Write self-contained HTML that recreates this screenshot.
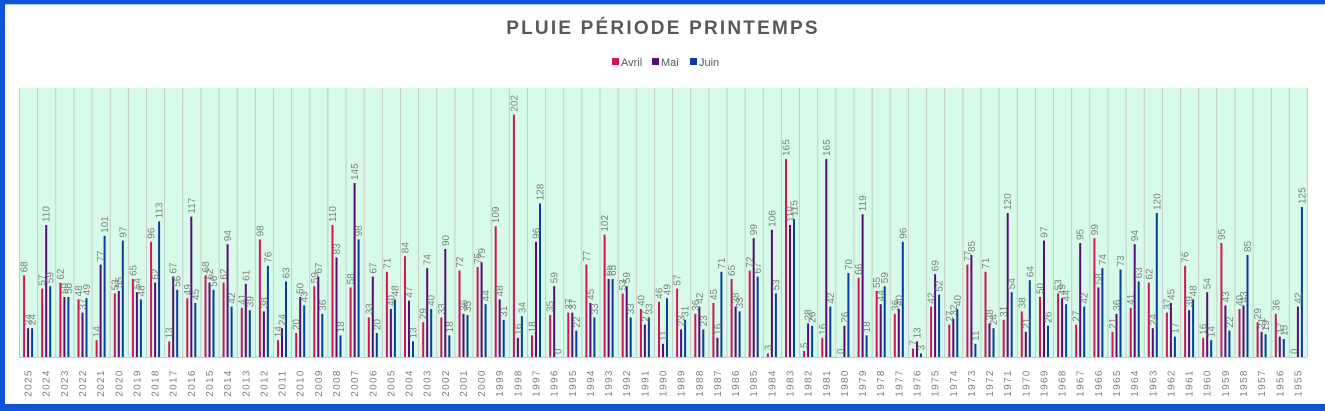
<!DOCTYPE html>
<html><head><meta charset="utf-8"><style>
html,body{margin:0;padding:0;background:#fff}
svg{display:block}
.a{fill:#d4145a}.m{fill:#5c0a78}.j{fill:#0d3d9b}
text{font-family:"Liberation Sans",sans-serif}
.l text{font-size:10px;fill:#7f7f7f}
.y{font-size:10.5px;fill:#595959;letter-spacing:1.3px;text-anchor:middle}
</style></head><body>
<svg width="1325" height="411" xmlns="http://www.w3.org/2000/svg">
<defs><pattern id="g" x="19" y="0" width="18.141" height="10" patternUnits="userSpaceOnUse"><rect x="0" y="0" width="1" height="10" fill="#c9c9c9"/></pattern></defs>
<rect x="0" y="0" width="1325" height="411" fill="#fff"/>
<rect x="19" y="88" width="1288" height="269" fill="#d6fce9"/>
<rect x="19" y="88" width="1289" height="269" fill="url(#g)"/>
<line x1="19" y1="357.5" x2="1307" y2="357.5" stroke="#c9c9c9"/>
<rect x="0" y="0" width="1325" height="4" fill="#1155d6"/>
<rect x="0" y="4" width="1325" height="1" fill="#a8c8f0"/>
<rect x="0" y="0" width="5" height="411" fill="#1155d6"/>
<rect x="0" y="404" width="1325" height="7" fill="#1155d6"/>
<text x="663" y="34" text-anchor="middle" style="font-size:19px;font-weight:bold;fill:#595959;letter-spacing:2.2px">PLUIE PÉRIODE PRINTEMPS</text>
<rect x="612" y="58" width="7" height="7" fill="#d4145a"/><text x="621" y="66" style="font-size:11px;fill:#595959">Avril</text>
<rect x="652" y="58" width="7" height="7" fill="#5c0a78"/><text x="661" y="66" style="font-size:11px;fill:#595959">Mai</text>
<rect x="690" y="58" width="7" height="7" fill="#0d3d9b"/><text x="699" y="66" style="font-size:11px;fill:#595959">Juin</text>
<g class="l">
<g transform="translate(28.1,357) scale(1,1.2)"><rect class="a" x="-5" width="2" y="-68" height="68"/><rect class="m" x="-1" width="2" y="-24" height="24"/><rect class="j" x="3" width="2" y="-24" height="24"/><text transform="translate(-.5,-68)scale(1,.8333)rotate(-90)" x="3">68</text><text transform="translate(3.5,-24)scale(1,.8333)rotate(-90)" x="3">24</text><text transform="translate(7.5,-24)scale(1,.8333)rotate(-90)" x="3">24</text><text class="y" transform="scale(1,.8333)rotate(-90)" x="-26" y="3.5">2025</text></g>
<g transform="translate(46.2,357) scale(1,1.2)"><rect class="a" x="-5" width="2" y="-57" height="57"/><rect class="m" x="-1" width="2" y="-110" height="110"/><rect class="j" x="3" width="2" y="-59" height="59"/><text transform="translate(-.5,-57)scale(1,.8333)rotate(-90)" x="3">57</text><text transform="translate(3.5,-110)scale(1,.8333)rotate(-90)" x="3">110</text><text transform="translate(7.5,-59)scale(1,.8333)rotate(-90)" x="3">59</text><text class="y" transform="scale(1,.8333)rotate(-90)" x="-26" y="3.5">2024</text></g>
<g transform="translate(64.4,357) scale(1,1.2)"><rect class="a" x="-5" width="2" y="-62" height="62"/><rect class="m" x="-1" width="2" y="-50" height="50"/><rect class="j" x="3" width="2" y="-50" height="50"/><text transform="translate(-.5,-62)scale(1,.8333)rotate(-90)" x="3">62</text><text transform="translate(3.5,-50)scale(1,.8333)rotate(-90)" x="3">50</text><text transform="translate(7.5,-50)scale(1,.8333)rotate(-90)" x="3">50</text><text class="y" transform="scale(1,.8333)rotate(-90)" x="-26" y="3.5">2023</text></g>
<g transform="translate(82.5,357) scale(1,1.2)"><rect class="a" x="-5" width="2" y="-48" height="48"/><rect class="m" x="-1" width="2" y="-37" height="37"/><rect class="j" x="3" width="2" y="-49" height="49"/><text transform="translate(-.5,-48)scale(1,.8333)rotate(-90)" x="3">48</text><text transform="translate(3.5,-37)scale(1,.8333)rotate(-90)" x="3">37</text><text transform="translate(7.5,-49)scale(1,.8333)rotate(-90)" x="3">49</text><text class="y" transform="scale(1,.8333)rotate(-90)" x="-26" y="3.5">2022</text></g>
<g transform="translate(100.6,357) scale(1,1.2)"><rect class="a" x="-5" width="2" y="-14" height="14"/><rect class="m" x="-1" width="2" y="-77" height="77"/><rect class="j" x="3" width="2" y="-101" height="101"/><text transform="translate(-.5,-14)scale(1,.8333)rotate(-90)" x="3">14</text><text transform="translate(3.5,-77)scale(1,.8333)rotate(-90)" x="3">77</text><text transform="translate(7.5,-101)scale(1,.8333)rotate(-90)" x="3">101</text><text class="y" transform="scale(1,.8333)rotate(-90)" x="-26" y="3.5">2021</text></g>
<g transform="translate(118.8,357) scale(1,1.2)"><rect class="a" x="-5" width="2" y="-53" height="53"/><rect class="m" x="-1" width="2" y="-55" height="55"/><rect class="j" x="3" width="2" y="-97" height="97"/><text transform="translate(-.5,-53)scale(1,.8333)rotate(-90)" x="3">53</text><text transform="translate(3.5,-55)scale(1,.8333)rotate(-90)" x="3">55</text><text transform="translate(7.5,-97)scale(1,.8333)rotate(-90)" x="3">97</text><text class="y" transform="scale(1,.8333)rotate(-90)" x="-26" y="3.5">2020</text></g>
<g transform="translate(136.9,357) scale(1,1.2)"><rect class="a" x="-5" width="2" y="-65" height="65"/><rect class="m" x="-1" width="2" y="-54" height="54"/><rect class="j" x="3" width="2" y="-48" height="48"/><text transform="translate(-.5,-65)scale(1,.8333)rotate(-90)" x="3">65</text><text transform="translate(3.5,-54)scale(1,.8333)rotate(-90)" x="3">54</text><text transform="translate(7.5,-48)scale(1,.8333)rotate(-90)" x="3">48</text><text class="y" transform="scale(1,.8333)rotate(-90)" x="-26" y="3.5">2019</text></g>
<g transform="translate(155.1,357) scale(1,1.2)"><rect class="a" x="-5" width="2" y="-96" height="96"/><rect class="m" x="-1" width="2" y="-62" height="62"/><rect class="j" x="3" width="2" y="-113" height="113"/><text transform="translate(-.5,-96)scale(1,.8333)rotate(-90)" x="3">96</text><text transform="translate(3.5,-62)scale(1,.8333)rotate(-90)" x="3">62</text><text transform="translate(7.5,-113)scale(1,.8333)rotate(-90)" x="3">113</text><text class="y" transform="scale(1,.8333)rotate(-90)" x="-26" y="3.5">2018</text></g>
<g transform="translate(173.2,357) scale(1,1.2)"><rect class="a" x="-5" width="2" y="-13" height="13"/><rect class="m" x="-1" width="2" y="-67" height="67"/><rect class="j" x="3" width="2" y="-56" height="56"/><text transform="translate(-.5,-13)scale(1,.8333)rotate(-90)" x="3">13</text><text transform="translate(3.5,-67)scale(1,.8333)rotate(-90)" x="3">67</text><text transform="translate(7.5,-56)scale(1,.8333)rotate(-90)" x="3">56</text><text class="y" transform="scale(1,.8333)rotate(-90)" x="-26" y="3.5">2017</text></g>
<g transform="translate(191.3,357) scale(1,1.2)"><rect class="a" x="-5" width="2" y="-49" height="49"/><rect class="m" x="-1" width="2" y="-117" height="117"/><rect class="j" x="3" width="2" y="-45" height="45"/><text transform="translate(-.5,-49)scale(1,.8333)rotate(-90)" x="3">49</text><text transform="translate(3.5,-117)scale(1,.8333)rotate(-90)" x="3">117</text><text transform="translate(7.5,-45)scale(1,.8333)rotate(-90)" x="3">45</text><text class="y" transform="scale(1,.8333)rotate(-90)" x="-26" y="3.5">2016</text></g>
<g transform="translate(209.5,357) scale(1,1.2)"><rect class="a" x="-5" width="2" y="-68" height="68"/><rect class="m" x="-1" width="2" y="-62" height="62"/><rect class="j" x="3" width="2" y="-56" height="56"/><text transform="translate(-.5,-68)scale(1,.8333)rotate(-90)" x="3">68</text><text transform="translate(3.5,-62)scale(1,.8333)rotate(-90)" x="3">62</text><text transform="translate(7.5,-56)scale(1,.8333)rotate(-90)" x="3">56</text><text class="y" transform="scale(1,.8333)rotate(-90)" x="-26" y="3.5">2015</text></g>
<g transform="translate(227.6,357) scale(1,1.2)"><rect class="a" x="-5" width="2" y="-62" height="62"/><rect class="m" x="-1" width="2" y="-94" height="94"/><rect class="j" x="3" width="2" y="-42" height="42"/><text transform="translate(-.5,-62)scale(1,.8333)rotate(-90)" x="3">62</text><text transform="translate(3.5,-94)scale(1,.8333)rotate(-90)" x="3">94</text><text transform="translate(7.5,-42)scale(1,.8333)rotate(-90)" x="3">42</text><text class="y" transform="scale(1,.8333)rotate(-90)" x="-26" y="3.5">2014</text></g>
<g transform="translate(245.8,357) scale(1,1.2)"><rect class="a" x="-5" width="2" y="-41" height="41"/><rect class="m" x="-1" width="2" y="-61" height="61"/><rect class="j" x="3" width="2" y="-39" height="39"/><text transform="translate(-.5,-41)scale(1,.8333)rotate(-90)" x="3">41</text><text transform="translate(3.5,-61)scale(1,.8333)rotate(-90)" x="3">61</text><text transform="translate(7.5,-39)scale(1,.8333)rotate(-90)" x="3">39</text><text class="y" transform="scale(1,.8333)rotate(-90)" x="-26" y="3.5">2013</text></g>
<g transform="translate(263.9,357) scale(1,1.2)"><rect class="a" x="-5" width="2" y="-98" height="98"/><rect class="m" x="-1" width="2" y="-38" height="38"/><rect class="j" x="3" width="2" y="-76" height="76"/><text transform="translate(-.5,-98)scale(1,.8333)rotate(-90)" x="3">98</text><text transform="translate(3.5,-38)scale(1,.8333)rotate(-90)" x="3">38</text><text transform="translate(7.5,-76)scale(1,.8333)rotate(-90)" x="3">76</text><text class="y" transform="scale(1,.8333)rotate(-90)" x="-26" y="3.5">2012</text></g>
<g transform="translate(282.0,357) scale(1,1.2)"><rect class="a" x="-5" width="2" y="-14" height="14"/><rect class="m" x="-1" width="2" y="-24" height="24"/><rect class="j" x="3" width="2" y="-63" height="63"/><text transform="translate(-.5,-14)scale(1,.8333)rotate(-90)" x="3">14</text><text transform="translate(3.5,-24)scale(1,.8333)rotate(-90)" x="3">24</text><text transform="translate(7.5,-63)scale(1,.8333)rotate(-90)" x="3">63</text><text class="y" transform="scale(1,.8333)rotate(-90)" x="-26" y="3.5">2011</text></g>
<g transform="translate(300.2,357) scale(1,1.2)"><rect class="a" x="-5" width="2" y="-20" height="20"/><rect class="m" x="-1" width="2" y="-50" height="50"/><rect class="j" x="3" width="2" y="-43" height="43"/><text transform="translate(-.5,-20)scale(1,.8333)rotate(-90)" x="3">20</text><text transform="translate(3.5,-50)scale(1,.8333)rotate(-90)" x="3">50</text><text transform="translate(7.5,-43)scale(1,.8333)rotate(-90)" x="3">43</text><text class="y" transform="scale(1,.8333)rotate(-90)" x="-26" y="3.5">2010</text></g>
<g transform="translate(318.3,357) scale(1,1.2)"><rect class="a" x="-5" width="2" y="-59" height="59"/><rect class="m" x="-1" width="2" y="-67" height="67"/><rect class="j" x="3" width="2" y="-36" height="36"/><text transform="translate(-.5,-59)scale(1,.8333)rotate(-90)" x="3">59</text><text transform="translate(3.5,-67)scale(1,.8333)rotate(-90)" x="3">67</text><text transform="translate(7.5,-36)scale(1,.8333)rotate(-90)" x="3">36</text><text class="y" transform="scale(1,.8333)rotate(-90)" x="-26" y="3.5">2009</text></g>
<g transform="translate(336.5,357) scale(1,1.2)"><rect class="a" x="-5" width="2" y="-110" height="110"/><rect class="m" x="-1" width="2" y="-83" height="83"/><rect class="j" x="3" width="2" y="-18" height="18"/><text transform="translate(-.5,-110)scale(1,.8333)rotate(-90)" x="3">110</text><text transform="translate(3.5,-83)scale(1,.8333)rotate(-90)" x="3">83</text><text transform="translate(7.5,-18)scale(1,.8333)rotate(-90)" x="3">18</text><text class="y" transform="scale(1,.8333)rotate(-90)" x="-26" y="3.5">2008</text></g>
<g transform="translate(354.6,357) scale(1,1.2)"><rect class="a" x="-5" width="2" y="-58" height="58"/><rect class="m" x="-1" width="2" y="-145" height="145"/><rect class="j" x="3" width="2" y="-98" height="98"/><text transform="translate(-.5,-58)scale(1,.8333)rotate(-90)" x="3">58</text><text transform="translate(3.5,-145)scale(1,.8333)rotate(-90)" x="3">145</text><text transform="translate(7.5,-98)scale(1,.8333)rotate(-90)" x="3">98</text><text class="y" transform="scale(1,.8333)rotate(-90)" x="-26" y="3.5">2007</text></g>
<g transform="translate(372.8,357) scale(1,1.2)"><rect class="a" x="-5" width="2" y="-33" height="33"/><rect class="m" x="-1" width="2" y="-67" height="67"/><rect class="j" x="3" width="2" y="-20" height="20"/><text transform="translate(-.5,-33)scale(1,.8333)rotate(-90)" x="3">33</text><text transform="translate(3.5,-67)scale(1,.8333)rotate(-90)" x="3">67</text><text transform="translate(7.5,-20)scale(1,.8333)rotate(-90)" x="3">20</text><text class="y" transform="scale(1,.8333)rotate(-90)" x="-26" y="3.5">2006</text></g>
<g transform="translate(390.9,357) scale(1,1.2)"><rect class="a" x="-5" width="2" y="-71" height="71"/><rect class="m" x="-1" width="2" y="-40" height="40"/><rect class="j" x="3" width="2" y="-48" height="48"/><text transform="translate(-.5,-71)scale(1,.8333)rotate(-90)" x="3">71</text><text transform="translate(3.5,-40)scale(1,.8333)rotate(-90)" x="3">40</text><text transform="translate(7.5,-48)scale(1,.8333)rotate(-90)" x="3">48</text><text class="y" transform="scale(1,.8333)rotate(-90)" x="-26" y="3.5">2005</text></g>
<g transform="translate(409.0,357) scale(1,1.2)"><rect class="a" x="-5" width="2" y="-84" height="84"/><rect class="m" x="-1" width="2" y="-47" height="47"/><rect class="j" x="3" width="2" y="-13" height="13"/><text transform="translate(-.5,-84)scale(1,.8333)rotate(-90)" x="3">84</text><text transform="translate(3.5,-47)scale(1,.8333)rotate(-90)" x="3">47</text><text transform="translate(7.5,-13)scale(1,.8333)rotate(-90)" x="3">13</text><text class="y" transform="scale(1,.8333)rotate(-90)" x="-26" y="3.5">2004</text></g>
<g transform="translate(427.2,357) scale(1,1.2)"><rect class="a" x="-5" width="2" y="-29" height="29"/><rect class="m" x="-1" width="2" y="-74" height="74"/><rect class="j" x="3" width="2" y="-40" height="40"/><text transform="translate(-.5,-29)scale(1,.8333)rotate(-90)" x="3">29</text><text transform="translate(3.5,-74)scale(1,.8333)rotate(-90)" x="3">74</text><text transform="translate(7.5,-40)scale(1,.8333)rotate(-90)" x="3">40</text><text class="y" transform="scale(1,.8333)rotate(-90)" x="-26" y="3.5">2003</text></g>
<g transform="translate(445.3,357) scale(1,1.2)"><rect class="a" x="-5" width="2" y="-33" height="33"/><rect class="m" x="-1" width="2" y="-90" height="90"/><rect class="j" x="3" width="2" y="-18" height="18"/><text transform="translate(-.5,-33)scale(1,.8333)rotate(-90)" x="3">33</text><text transform="translate(3.5,-90)scale(1,.8333)rotate(-90)" x="3">90</text><text transform="translate(7.5,-18)scale(1,.8333)rotate(-90)" x="3">18</text><text class="y" transform="scale(1,.8333)rotate(-90)" x="-26" y="3.5">2002</text></g>
<g transform="translate(463.5,357) scale(1,1.2)"><rect class="a" x="-5" width="2" y="-72" height="72"/><rect class="m" x="-1" width="2" y="-36" height="36"/><rect class="j" x="3" width="2" y="-35" height="35"/><text transform="translate(-.5,-72)scale(1,.8333)rotate(-90)" x="3">72</text><text transform="translate(3.5,-36)scale(1,.8333)rotate(-90)" x="3">36</text><text transform="translate(7.5,-35)scale(1,.8333)rotate(-90)" x="3">35</text><text class="y" transform="scale(1,.8333)rotate(-90)" x="-26" y="3.5">2001</text></g>
<g transform="translate(481.6,357) scale(1,1.2)"><rect class="a" x="-5" width="2" y="-75" height="75"/><rect class="m" x="-1" width="2" y="-79" height="79"/><rect class="j" x="3" width="2" y="-44" height="44"/><text transform="translate(-.5,-75)scale(1,.8333)rotate(-90)" x="3">75</text><text transform="translate(3.5,-79)scale(1,.8333)rotate(-90)" x="3">79</text><text transform="translate(7.5,-44)scale(1,.8333)rotate(-90)" x="3">44</text><text class="y" transform="scale(1,.8333)rotate(-90)" x="-26" y="3.5">2000</text></g>
<g transform="translate(499.7,357) scale(1,1.2)"><rect class="a" x="-5" width="2" y="-109" height="109"/><rect class="m" x="-1" width="2" y="-48" height="48"/><rect class="j" x="3" width="2" y="-31" height="31"/><text transform="translate(-.5,-109)scale(1,.8333)rotate(-90)" x="3">109</text><text transform="translate(3.5,-48)scale(1,.8333)rotate(-90)" x="3">48</text><text transform="translate(7.5,-31)scale(1,.8333)rotate(-90)" x="3">31</text><text class="y" transform="scale(1,.8333)rotate(-90)" x="-26" y="3.5">1999</text></g>
<g transform="translate(517.9,357) scale(1,1.2)"><rect class="a" x="-5" width="2" y="-202" height="202"/><rect class="m" x="-1" width="2" y="-16" height="16"/><rect class="j" x="3" width="2" y="-34" height="34"/><text transform="translate(-.5,-202)scale(1,.8333)rotate(-90)" x="3">202</text><text transform="translate(3.5,-16)scale(1,.8333)rotate(-90)" x="3">16</text><text transform="translate(7.5,-34)scale(1,.8333)rotate(-90)" x="3">34</text><text class="y" transform="scale(1,.8333)rotate(-90)" x="-26" y="3.5">1998</text></g>
<g transform="translate(536.0,357) scale(1,1.2)"><rect class="a" x="-5" width="2" y="-18" height="18"/><rect class="m" x="-1" width="2" y="-96" height="96"/><rect class="j" x="3" width="2" y="-128" height="128"/><text transform="translate(-.5,-18)scale(1,.8333)rotate(-90)" x="3">18</text><text transform="translate(3.5,-96)scale(1,.8333)rotate(-90)" x="3">96</text><text transform="translate(7.5,-128)scale(1,.8333)rotate(-90)" x="3">128</text><text class="y" transform="scale(1,.8333)rotate(-90)" x="-26" y="3.5">1997</text></g>
<g transform="translate(554.2,357) scale(1,1.2)"><rect class="a" x="-5" width="2" y="-35" height="35"/><rect class="m" x="-1" width="2" y="-59" height="59"/><text transform="translate(-.5,-35)scale(1,.8333)rotate(-90)" x="3">35</text><text transform="translate(3.5,-59)scale(1,.8333)rotate(-90)" x="3">59</text><text transform="translate(7.5,0)scale(1,.8333)rotate(-90)" x="3">0</text><text class="y" transform="scale(1,.8333)rotate(-90)" x="-26" y="3.5">1996</text></g>
<g transform="translate(572.3,357) scale(1,1.2)"><rect class="a" x="-5" width="2" y="-37" height="37"/><rect class="m" x="-1" width="2" y="-37" height="37"/><rect class="j" x="3" width="2" y="-22" height="22"/><text transform="translate(-.5,-37)scale(1,.8333)rotate(-90)" x="3">37</text><text transform="translate(3.5,-37)scale(1,.8333)rotate(-90)" x="3">37</text><text transform="translate(7.5,-22)scale(1,.8333)rotate(-90)" x="3">22</text><text class="y" transform="scale(1,.8333)rotate(-90)" x="-26" y="3.5">1995</text></g>
<g transform="translate(590.4,357) scale(1,1.2)"><rect class="a" x="-5" width="2" y="-77" height="77"/><rect class="m" x="-1" width="2" y="-45" height="45"/><rect class="j" x="3" width="2" y="-33" height="33"/><text transform="translate(-.5,-77)scale(1,.8333)rotate(-90)" x="3">77</text><text transform="translate(3.5,-45)scale(1,.8333)rotate(-90)" x="3">45</text><text transform="translate(7.5,-33)scale(1,.8333)rotate(-90)" x="3">33</text><text class="y" transform="scale(1,.8333)rotate(-90)" x="-26" y="3.5">1994</text></g>
<g transform="translate(608.6,357) scale(1,1.2)"><rect class="a" x="-5" width="2" y="-102" height="102"/><rect class="m" x="-1" width="2" y="-65" height="65"/><rect class="j" x="3" width="2" y="-65" height="65"/><text transform="translate(-.5,-102)scale(1,.8333)rotate(-90)" x="3">102</text><text transform="translate(3.5,-65)scale(1,.8333)rotate(-90)" x="3">65</text><text transform="translate(7.5,-65)scale(1,.8333)rotate(-90)" x="3">65</text><text class="y" transform="scale(1,.8333)rotate(-90)" x="-26" y="3.5">1993</text></g>
<g transform="translate(626.7,357) scale(1,1.2)"><rect class="a" x="-5" width="2" y="-53" height="53"/><rect class="m" x="-1" width="2" y="-59" height="59"/><rect class="j" x="3" width="2" y="-33" height="33"/><text transform="translate(-.5,-53)scale(1,.8333)rotate(-90)" x="3">53</text><text transform="translate(3.5,-59)scale(1,.8333)rotate(-90)" x="3">59</text><text transform="translate(7.5,-33)scale(1,.8333)rotate(-90)" x="3">33</text><text class="y" transform="scale(1,.8333)rotate(-90)" x="-26" y="3.5">1992</text></g>
<g transform="translate(644.9,357) scale(1,1.2)"><rect class="a" x="-5" width="2" y="-40" height="40"/><rect class="m" x="-1" width="2" y="-27" height="27"/><rect class="j" x="3" width="2" y="-33" height="33"/><text transform="translate(-.5,-40)scale(1,.8333)rotate(-90)" x="3">40</text><text transform="translate(3.5,-27)scale(1,.8333)rotate(-90)" x="3">27</text><text transform="translate(7.5,-33)scale(1,.8333)rotate(-90)" x="3">33</text><text class="y" transform="scale(1,.8333)rotate(-90)" x="-26" y="3.5">1991</text></g>
<g transform="translate(663.0,357) scale(1,1.2)"><rect class="a" x="-5" width="2" y="-46" height="46"/><rect class="m" x="-1" width="2" y="-11" height="11"/><rect class="j" x="3" width="2" y="-49" height="49"/><text transform="translate(-.5,-46)scale(1,.8333)rotate(-90)" x="3">46</text><text transform="translate(3.5,-11)scale(1,.8333)rotate(-90)" x="3">11</text><text transform="translate(7.5,-49)scale(1,.8333)rotate(-90)" x="3">49</text><text class="y" transform="scale(1,.8333)rotate(-90)" x="-26" y="3.5">1990</text></g>
<g transform="translate(681.1,357) scale(1,1.2)"><rect class="a" x="-5" width="2" y="-57" height="57"/><rect class="m" x="-1" width="2" y="-23" height="23"/><rect class="j" x="3" width="2" y="-31" height="31"/><text transform="translate(-.5,-57)scale(1,.8333)rotate(-90)" x="3">57</text><text transform="translate(3.5,-23)scale(1,.8333)rotate(-90)" x="3">23</text><text transform="translate(7.5,-31)scale(1,.8333)rotate(-90)" x="3">31</text><text class="y" transform="scale(1,.8333)rotate(-90)" x="-26" y="3.5">1989</text></g>
<g transform="translate(699.3,357) scale(1,1.2)"><rect class="a" x="-5" width="2" y="-36" height="36"/><rect class="m" x="-1" width="2" y="-42" height="42"/><rect class="j" x="3" width="2" y="-23" height="23"/><text transform="translate(-.5,-36)scale(1,.8333)rotate(-90)" x="3">36</text><text transform="translate(3.5,-42)scale(1,.8333)rotate(-90)" x="3">42</text><text transform="translate(7.5,-23)scale(1,.8333)rotate(-90)" x="3">23</text><text class="y" transform="scale(1,.8333)rotate(-90)" x="-26" y="3.5">1988</text></g>
<g transform="translate(717.4,357) scale(1,1.2)"><rect class="a" x="-5" width="2" y="-45" height="45"/><rect class="m" x="-1" width="2" y="-16" height="16"/><rect class="j" x="3" width="2" y="-71" height="71"/><text transform="translate(-.5,-45)scale(1,.8333)rotate(-90)" x="3">45</text><text transform="translate(3.5,-16)scale(1,.8333)rotate(-90)" x="3">16</text><text transform="translate(7.5,-71)scale(1,.8333)rotate(-90)" x="3">71</text><text class="y" transform="scale(1,.8333)rotate(-90)" x="-26" y="3.5">1987</text></g>
<g transform="translate(735.6,357) scale(1,1.2)"><rect class="a" x="-5" width="2" y="-65" height="65"/><rect class="m" x="-1" width="2" y="-42" height="42"/><rect class="j" x="3" width="2" y="-38" height="38"/><text transform="translate(-.5,-65)scale(1,.8333)rotate(-90)" x="3">65</text><text transform="translate(3.5,-42)scale(1,.8333)rotate(-90)" x="3">38</text><text transform="translate(7.5,-38)scale(1,.8333)rotate(-90)" x="3">33</text><text class="y" transform="scale(1,.8333)rotate(-90)" x="-26" y="3.5">1986</text></g>
<g transform="translate(753.7,357) scale(1,1.2)"><rect class="a" x="-5" width="2" y="-72" height="72"/><rect class="m" x="-1" width="2" y="-99" height="99"/><rect class="j" x="3" width="2" y="-67" height="67"/><text transform="translate(-.5,-72)scale(1,.8333)rotate(-90)" x="3">72</text><text transform="translate(3.5,-99)scale(1,.8333)rotate(-90)" x="3">99</text><text transform="translate(7.5,-67)scale(1,.8333)rotate(-90)" x="3">67</text><text class="y" transform="scale(1,.8333)rotate(-90)" x="-26" y="3.5">1985</text></g>
<g transform="translate(771.9,357) scale(1,1.2)"><rect class="a" x="-5" width="2" y="-3" height="3"/><rect class="m" x="-1" width="2" y="-106" height="106"/><rect class="j" x="3" width="2" y="-53" height="53"/><text transform="translate(-.5,-3)scale(1,.8333)rotate(-90)" x="3">3</text><text transform="translate(3.5,-106)scale(1,.8333)rotate(-90)" x="3">106</text><text transform="translate(7.5,-53)scale(1,.8333)rotate(-90)" x="3">53</text><text class="y" transform="scale(1,.8333)rotate(-90)" x="-26" y="3.5">1984</text></g>
<g transform="translate(790.0,357) scale(1,1.2)"><rect class="a" x="-5" width="2" y="-165" height="165"/><rect class="m" x="-1" width="2" y="-110" height="110"/><rect class="j" x="3" width="2" y="-115" height="115"/><text transform="translate(-.5,-165)scale(1,.8333)rotate(-90)" x="3">165</text><text transform="translate(3.5,-110)scale(1,.8333)rotate(-90)" x="3">110</text><text transform="translate(7.5,-115)scale(1,.8333)rotate(-90)" x="3">115</text><text class="y" transform="scale(1,.8333)rotate(-90)" x="-26" y="3.5">1983</text></g>
<g transform="translate(808.1,357) scale(1,1.2)"><rect class="a" x="-5" width="2" y="-5" height="5"/><rect class="m" x="-1" width="2" y="-28" height="28"/><rect class="j" x="3" width="2" y="-26" height="26"/><text transform="translate(-.5,-5)scale(1,.8333)rotate(-90)" x="3">5</text><text transform="translate(3.5,-28)scale(1,.8333)rotate(-90)" x="3">28</text><text transform="translate(7.5,-26)scale(1,.8333)rotate(-90)" x="3">26</text><text class="y" transform="scale(1,.8333)rotate(-90)" x="-26" y="3.5">1982</text></g>
<g transform="translate(826.3,357) scale(1,1.2)"><rect class="a" x="-5" width="2" y="-16" height="16"/><rect class="m" x="-1" width="2" y="-165" height="165"/><rect class="j" x="3" width="2" y="-42" height="42"/><text transform="translate(-.5,-16)scale(1,.8333)rotate(-90)" x="3">16</text><text transform="translate(3.5,-165)scale(1,.8333)rotate(-90)" x="3">165</text><text transform="translate(7.5,-42)scale(1,.8333)rotate(-90)" x="3">42</text><text class="y" transform="scale(1,.8333)rotate(-90)" x="-26" y="3.5">1981</text></g>
<g transform="translate(844.4,357) scale(1,1.2)"><rect class="m" x="-1" width="2" y="-26" height="26"/><rect class="j" x="3" width="2" y="-70" height="70"/><text transform="translate(-.5,0)scale(1,.8333)rotate(-90)" x="3">0</text><text transform="translate(3.5,-26)scale(1,.8333)rotate(-90)" x="3">26</text><text transform="translate(7.5,-70)scale(1,.8333)rotate(-90)" x="3">70</text><text class="y" transform="scale(1,.8333)rotate(-90)" x="-26" y="3.5">1980</text></g>
<g transform="translate(862.6,357) scale(1,1.2)"><rect class="a" x="-5" width="2" y="-66" height="66"/><rect class="m" x="-1" width="2" y="-119" height="119"/><rect class="j" x="3" width="2" y="-18" height="18"/><text transform="translate(-.5,-66)scale(1,.8333)rotate(-90)" x="3">66</text><text transform="translate(3.5,-119)scale(1,.8333)rotate(-90)" x="3">119</text><text transform="translate(7.5,-18)scale(1,.8333)rotate(-90)" x="3">18</text><text class="y" transform="scale(1,.8333)rotate(-90)" x="-26" y="3.5">1979</text></g>
<g transform="translate(880.7,357) scale(1,1.2)"><rect class="a" x="-5" width="2" y="-55" height="55"/><rect class="m" x="-1" width="2" y="-44" height="44"/><rect class="j" x="3" width="2" y="-59" height="59"/><text transform="translate(-.5,-55)scale(1,.8333)rotate(-90)" x="3">55</text><text transform="translate(3.5,-44)scale(1,.8333)rotate(-90)" x="3">44</text><text transform="translate(7.5,-59)scale(1,.8333)rotate(-90)" x="3">59</text><text class="y" transform="scale(1,.8333)rotate(-90)" x="-26" y="3.5">1978</text></g>
<g transform="translate(898.8,357) scale(1,1.2)"><rect class="a" x="-5" width="2" y="-36" height="36"/><rect class="m" x="-1" width="2" y="-40" height="40"/><rect class="j" x="3" width="2" y="-96" height="96"/><text transform="translate(-.5,-36)scale(1,.8333)rotate(-90)" x="3">36</text><text transform="translate(3.5,-40)scale(1,.8333)rotate(-90)" x="3">40</text><text transform="translate(7.5,-96)scale(1,.8333)rotate(-90)" x="3">96</text><text class="y" transform="scale(1,.8333)rotate(-90)" x="-26" y="3.5">1977</text></g>
<g transform="translate(917.0,357) scale(1,1.2)"><rect class="a" x="-5" width="2" y="-7" height="7"/><rect class="m" x="-1" width="2" y="-13" height="13"/><rect class="j" x="3" width="2" y="-3" height="3"/><text transform="translate(-.5,-7)scale(1,.8333)rotate(-90)" x="3">7</text><text transform="translate(3.5,-13)scale(1,.8333)rotate(-90)" x="3">13</text><text transform="translate(7.5,-3)scale(1,.8333)rotate(-90)" x="3">3</text><text class="y" transform="scale(1,.8333)rotate(-90)" x="-26" y="3.5">1976</text></g>
<g transform="translate(935.1,357) scale(1,1.2)"><rect class="a" x="-5" width="2" y="-42" height="42"/><rect class="m" x="-1" width="2" y="-69" height="69"/><rect class="j" x="3" width="2" y="-52" height="52"/><text transform="translate(-.5,-42)scale(1,.8333)rotate(-90)" x="3">42</text><text transform="translate(3.5,-69)scale(1,.8333)rotate(-90)" x="3">69</text><text transform="translate(7.5,-52)scale(1,.8333)rotate(-90)" x="3">52</text><text class="y" transform="scale(1,.8333)rotate(-90)" x="-26" y="3.5">1975</text></g>
<g transform="translate(953.3,357) scale(1,1.2)"><rect class="a" x="-5" width="2" y="-27" height="27"/><rect class="m" x="-1" width="2" y="-32" height="32"/><rect class="j" x="3" width="2" y="-40" height="40"/><text transform="translate(-.5,-27)scale(1,.8333)rotate(-90)" x="3">27</text><text transform="translate(3.5,-32)scale(1,.8333)rotate(-90)" x="3">32</text><text transform="translate(7.5,-40)scale(1,.8333)rotate(-90)" x="3">40</text><text class="y" transform="scale(1,.8333)rotate(-90)" x="-26" y="3.5">1974</text></g>
<g transform="translate(971.4,357) scale(1,1.2)"><rect class="a" x="-5" width="2" y="-77" height="77"/><rect class="m" x="-1" width="2" y="-85" height="85"/><rect class="j" x="3" width="2" y="-11" height="11"/><text transform="translate(-.5,-77)scale(1,.8333)rotate(-90)" x="3">77</text><text transform="translate(3.5,-85)scale(1,.8333)rotate(-90)" x="3">85</text><text transform="translate(7.5,-11)scale(1,.8333)rotate(-90)" x="3">11</text><text class="y" transform="scale(1,.8333)rotate(-90)" x="-26" y="3.5">1973</text></g>
<g transform="translate(989.5,357) scale(1,1.2)"><rect class="a" x="-5" width="2" y="-71" height="71"/><rect class="m" x="-1" width="2" y="-28" height="28"/><rect class="j" x="3" width="2" y="-24" height="24"/><text transform="translate(-.5,-71)scale(1,.8333)rotate(-90)" x="3">71</text><text transform="translate(3.5,-28)scale(1,.8333)rotate(-90)" x="3">28</text><text transform="translate(7.5,-24)scale(1,.8333)rotate(-90)" x="3">24</text><text class="y" transform="scale(1,.8333)rotate(-90)" x="-26" y="3.5">1972</text></g>
<g transform="translate(1007.7,357) scale(1,1.2)"><rect class="a" x="-5" width="2" y="-31" height="31"/><rect class="m" x="-1" width="2" y="-120" height="120"/><rect class="j" x="3" width="2" y="-54" height="54"/><text transform="translate(-.5,-31)scale(1,.8333)rotate(-90)" x="3">31</text><text transform="translate(3.5,-120)scale(1,.8333)rotate(-90)" x="3">120</text><text transform="translate(7.5,-54)scale(1,.8333)rotate(-90)" x="3">54</text><text class="y" transform="scale(1,.8333)rotate(-90)" x="-26" y="3.5">1971</text></g>
<g transform="translate(1025.8,357) scale(1,1.2)"><rect class="a" x="-5" width="2" y="-38" height="38"/><rect class="m" x="-1" width="2" y="-21" height="21"/><rect class="j" x="3" width="2" y="-64" height="64"/><text transform="translate(-.5,-38)scale(1,.8333)rotate(-90)" x="3">38</text><text transform="translate(3.5,-21)scale(1,.8333)rotate(-90)" x="3">21</text><text transform="translate(7.5,-64)scale(1,.8333)rotate(-90)" x="3">64</text><text class="y" transform="scale(1,.8333)rotate(-90)" x="-26" y="3.5">1970</text></g>
<g transform="translate(1044.0,357) scale(1,1.2)"><rect class="a" x="-5" width="2" y="-50" height="50"/><rect class="m" x="-1" width="2" y="-97" height="97"/><rect class="j" x="3" width="2" y="-26" height="26"/><text transform="translate(-.5,-50)scale(1,.8333)rotate(-90)" x="3">50</text><text transform="translate(3.5,-97)scale(1,.8333)rotate(-90)" x="3">97</text><text transform="translate(7.5,-26)scale(1,.8333)rotate(-90)" x="3">26</text><text class="y" transform="scale(1,.8333)rotate(-90)" x="-26" y="3.5">1969</text></g>
<g transform="translate(1062.1,357) scale(1,1.2)"><rect class="a" x="-5" width="2" y="-53" height="53"/><rect class="m" x="-1" width="2" y="-49" height="49"/><rect class="j" x="3" width="2" y="-44" height="44"/><text transform="translate(-.5,-53)scale(1,.8333)rotate(-90)" x="3">53</text><text transform="translate(3.5,-49)scale(1,.8333)rotate(-90)" x="3">49</text><text transform="translate(7.5,-44)scale(1,.8333)rotate(-90)" x="3">44</text><text class="y" transform="scale(1,.8333)rotate(-90)" x="-26" y="3.5">1968</text></g>
<g transform="translate(1080.2,357) scale(1,1.2)"><rect class="a" x="-5" width="2" y="-27" height="27"/><rect class="m" x="-1" width="2" y="-95" height="95"/><rect class="j" x="3" width="2" y="-42" height="42"/><text transform="translate(-.5,-27)scale(1,.8333)rotate(-90)" x="3">27</text><text transform="translate(3.5,-95)scale(1,.8333)rotate(-90)" x="3">95</text><text transform="translate(7.5,-42)scale(1,.8333)rotate(-90)" x="3">42</text><text class="y" transform="scale(1,.8333)rotate(-90)" x="-26" y="3.5">1967</text></g>
<g transform="translate(1098.4,357) scale(1,1.2)"><rect class="a" x="-5" width="2" y="-99" height="99"/><rect class="m" x="-1" width="2" y="-58" height="58"/><rect class="j" x="3" width="2" y="-74" height="74"/><text transform="translate(-.5,-99)scale(1,.8333)rotate(-90)" x="3">99</text><text transform="translate(3.5,-58)scale(1,.8333)rotate(-90)" x="3">58</text><text transform="translate(7.5,-74)scale(1,.8333)rotate(-90)" x="3">74</text><text class="y" transform="scale(1,.8333)rotate(-90)" x="-26" y="3.5">1966</text></g>
<g transform="translate(1116.5,357) scale(1,1.2)"><rect class="a" x="-5" width="2" y="-21" height="21"/><rect class="m" x="-1" width="2" y="-36" height="36"/><rect class="j" x="3" width="2" y="-73" height="73"/><text transform="translate(-.5,-21)scale(1,.8333)rotate(-90)" x="3">21</text><text transform="translate(3.5,-36)scale(1,.8333)rotate(-90)" x="3">36</text><text transform="translate(7.5,-73)scale(1,.8333)rotate(-90)" x="3">73</text><text class="y" transform="scale(1,.8333)rotate(-90)" x="-26" y="3.5">1965</text></g>
<g transform="translate(1134.7,357) scale(1,1.2)"><rect class="a" x="-5" width="2" y="-41" height="41"/><rect class="m" x="-1" width="2" y="-94" height="94"/><rect class="j" x="3" width="2" y="-63" height="63"/><text transform="translate(-.5,-41)scale(1,.8333)rotate(-90)" x="3">41</text><text transform="translate(3.5,-94)scale(1,.8333)rotate(-90)" x="3">94</text><text transform="translate(7.5,-63)scale(1,.8333)rotate(-90)" x="3">63</text><text class="y" transform="scale(1,.8333)rotate(-90)" x="-26" y="3.5">1964</text></g>
<g transform="translate(1152.8,357) scale(1,1.2)"><rect class="a" x="-5" width="2" y="-62" height="62"/><rect class="m" x="-1" width="2" y="-24" height="24"/><rect class="j" x="3" width="2" y="-120" height="120"/><text transform="translate(-.5,-62)scale(1,.8333)rotate(-90)" x="3">62</text><text transform="translate(3.5,-24)scale(1,.8333)rotate(-90)" x="3">24</text><text transform="translate(7.5,-120)scale(1,.8333)rotate(-90)" x="3">120</text><text class="y" transform="scale(1,.8333)rotate(-90)" x="-26" y="3.5">1963</text></g>
<g transform="translate(1170.9,357) scale(1,1.2)"><rect class="a" x="-5" width="2" y="-37" height="37"/><rect class="m" x="-1" width="2" y="-45" height="45"/><rect class="j" x="3" width="2" y="-17" height="17"/><text transform="translate(-.5,-37)scale(1,.8333)rotate(-90)" x="3">37</text><text transform="translate(3.5,-45)scale(1,.8333)rotate(-90)" x="3">45</text><text transform="translate(7.5,-17)scale(1,.8333)rotate(-90)" x="3">17</text><text class="y" transform="scale(1,.8333)rotate(-90)" x="-26" y="3.5">1962</text></g>
<g transform="translate(1189.1,357) scale(1,1.2)"><rect class="a" x="-5" width="2" y="-76" height="76"/><rect class="m" x="-1" width="2" y="-39" height="39"/><rect class="j" x="3" width="2" y="-48" height="48"/><text transform="translate(-.5,-76)scale(1,.8333)rotate(-90)" x="3">76</text><text transform="translate(3.5,-39)scale(1,.8333)rotate(-90)" x="3">39</text><text transform="translate(7.5,-48)scale(1,.8333)rotate(-90)" x="3">48</text><text class="y" transform="scale(1,.8333)rotate(-90)" x="-26" y="3.5">1961</text></g>
<g transform="translate(1207.2,357) scale(1,1.2)"><rect class="a" x="-5" width="2" y="-16" height="16"/><rect class="m" x="-1" width="2" y="-54" height="54"/><rect class="j" x="3" width="2" y="-14" height="14"/><text transform="translate(-.5,-16)scale(1,.8333)rotate(-90)" x="3">16</text><text transform="translate(3.5,-54)scale(1,.8333)rotate(-90)" x="3">54</text><text transform="translate(7.5,-14)scale(1,.8333)rotate(-90)" x="3">14</text><text class="y" transform="scale(1,.8333)rotate(-90)" x="-26" y="3.5">1960</text></g>
<g transform="translate(1225.4,357) scale(1,1.2)"><rect class="a" x="-5" width="2" y="-95" height="95"/><rect class="m" x="-1" width="2" y="-43" height="43"/><rect class="j" x="3" width="2" y="-22" height="22"/><text transform="translate(-.5,-95)scale(1,.8333)rotate(-90)" x="3">95</text><text transform="translate(3.5,-43)scale(1,.8333)rotate(-90)" x="3">43</text><text transform="translate(7.5,-22)scale(1,.8333)rotate(-90)" x="3">22</text><text class="y" transform="scale(1,.8333)rotate(-90)" x="-26" y="3.5">1959</text></g>
<g transform="translate(1243.5,357) scale(1,1.2)"><rect class="a" x="-5" width="2" y="-40" height="40"/><rect class="m" x="-1" width="2" y="-43" height="43"/><rect class="j" x="3" width="2" y="-85" height="85"/><text transform="translate(-.5,-40)scale(1,.8333)rotate(-90)" x="3">40</text><text transform="translate(3.5,-43)scale(1,.8333)rotate(-90)" x="3">43</text><text transform="translate(7.5,-85)scale(1,.8333)rotate(-90)" x="3">85</text><text class="y" transform="scale(1,.8333)rotate(-90)" x="-26" y="3.5">1958</text></g>
<g transform="translate(1261.6,357) scale(1,1.2)"><rect class="a" x="-5" width="2" y="-29" height="29"/><rect class="m" x="-1" width="2" y="-21" height="21"/><rect class="j" x="3" width="2" y="-19" height="19"/><text transform="translate(-.5,-29)scale(1,.8333)rotate(-90)" x="3">29</text><text transform="translate(3.5,-21)scale(1,.8333)rotate(-90)" x="3">21</text><text transform="translate(7.5,-19)scale(1,.8333)rotate(-90)" x="3">19</text><text class="y" transform="scale(1,.8333)rotate(-90)" x="-26" y="3.5">1957</text></g>
<g transform="translate(1279.8,357) scale(1,1.2)"><rect class="a" x="-5" width="2" y="-36" height="36"/><rect class="m" x="-1" width="2" y="-17" height="17"/><rect class="j" x="3" width="2" y="-15" height="15"/><text transform="translate(-.5,-36)scale(1,.8333)rotate(-90)" x="3">36</text><text transform="translate(3.5,-17)scale(1,.8333)rotate(-90)" x="3">17</text><text transform="translate(7.5,-15)scale(1,.8333)rotate(-90)" x="3">15</text><text class="y" transform="scale(1,.8333)rotate(-90)" x="-26" y="3.5">1956</text></g>
<g transform="translate(1297.9,357) scale(1,1.2)"><rect class="m" x="-1" width="2" y="-42" height="42"/><rect class="j" x="3" width="2" y="-125" height="125"/><text transform="translate(-.5,0)scale(1,.8333)rotate(-90)" x="3">0</text><text transform="translate(3.5,-42)scale(1,.8333)rotate(-90)" x="3">42</text><text transform="translate(7.5,-125)scale(1,.8333)rotate(-90)" x="3">125</text><text class="y" transform="scale(1,.8333)rotate(-90)" x="-26" y="3.5">1955</text></g>
</g>
</svg>
</body></html>
